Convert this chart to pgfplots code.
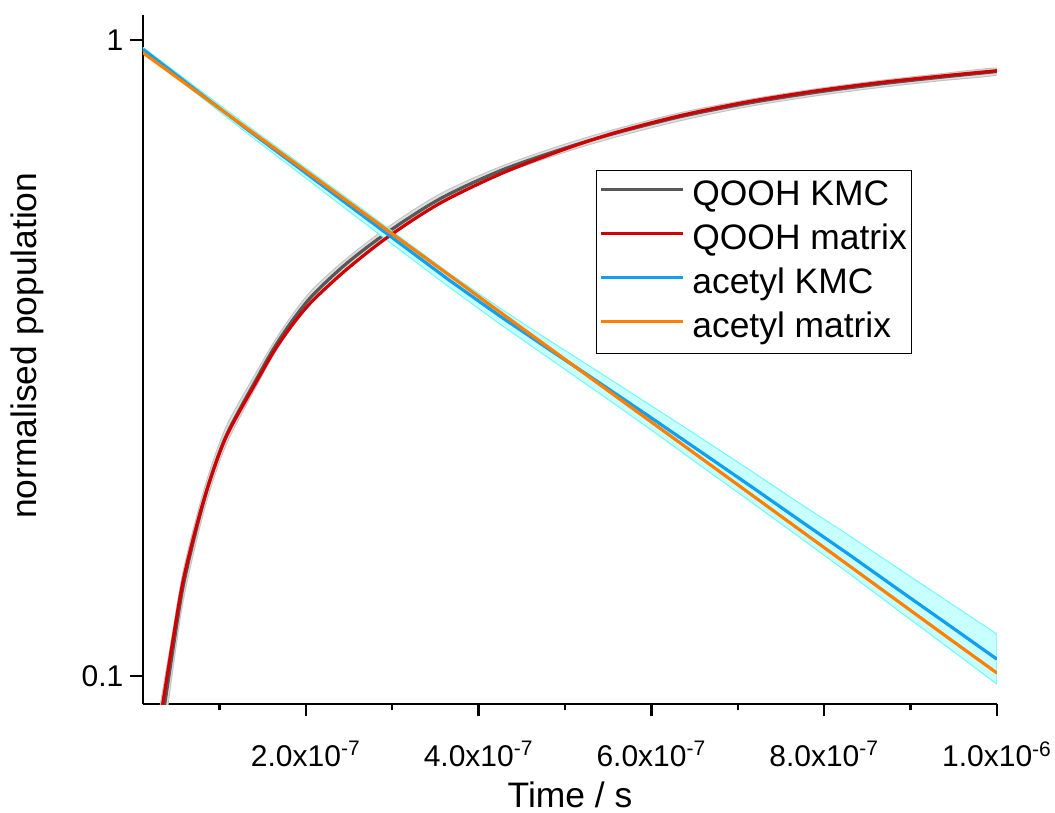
\documentclass[border=0pt]{standalone}
\usepackage{fontspec}
\setmainfont{Liberation Sans}
\usepackage{pgfplots}
\pgfplotsset{compat=1.18}
\definecolor{qgray}{RGB}{88,88,88}
\definecolor{qred}{RGB}{208,0,0}
\definecolor{ablue}{RGB}{17,160,240}
\definecolor{aorange}{RGB}{255,128,0}
\definecolor{cfill}{RGB}{200,255,255}
\definecolor{cedge}{RGB}{110,250,250}
\definecolor{gfill}{RGB}{222,222,222}
\definecolor{gedge}{RGB}{196,196,196}
\begin{document}
\begin{tikzpicture}
\path[use as bounding box] (-71.5pt,-54.5pt) rectangle (456pt,352pt);
\begin{axis}[
  at={(0pt,0pt)}, anchor=south west,
  scale only axis, width=427pt, height=344.5pt,
  ymode=log,
  xmin=1.15e-8, xmax=1e-6, ymin=0.0903, ymax=1.095,
  axis x line*=bottom, axis y line*=left,
  axis line style={line width=1.2pt, -},
  tick align=outside,
  major tick length=6.25pt, minor tick length=3.25pt,
  tick style={line width=1.2pt, black},
  xtick={2e-7,4e-7,6e-7,8e-7,1e-6},
  minor xtick={1e-7,3e-7,5e-7,7e-7,9e-7},
  xticklabels={2.0x10\textsuperscript{-7},4.0x10\textsuperscript{-7},6.0x10\textsuperscript{-7},8.0x10\textsuperscript{-7},1.0x10\textsuperscript{-6}},
  scaled x ticks=false,
  ytick={0.1,1}, yticklabels={0.1,1},
  yminorticks=false,
  ticklabel style={font=\fontsize{15}{17}\selectfont},
  xticklabel style={yshift=-9pt},
  xlabel={Time / s},
  ylabel={normalised population},
  label style={font=\fontsize{17.7}{21}\selectfont},
  xlabel style={at={(axis description cs:0.5,-0.132)}, anchor=center},
  ylabel style={at={(axis description cs:-0.1358,0.52)}, anchor=center},
  legend style={at={(0.530,0.775)}, anchor=north west, draw=black, line width=0.6pt,
    font=\fontsize{17.7}{21}\selectfont, inner xsep=1.5pt, inner ysep=3.4pt,
    nodes={inner sep=1pt, text height=13pt, text depth=3.7pt}, row sep=3.3pt, column sep=3pt},
  legend cell align=left,
  legend image code/.code={\draw[#1, line width=1.6pt] (0pt,0.35em) -- (41pt,0.35em);},
]
% --- QOOH KMC band (upper edge forward, lower edge backward)
\addplot[fill=gfill, draw=gedge, line width=0.5pt, smooth, forget plot] coordinates {
(2.8e-8,0.0842) (3.43e-8,0.0949) (4.47e-8,0.1148) (5.75e-8,0.1450) (7.36e-8,0.1783) (8.9e-8,0.2105) (1.09e-7,0.2486) (1.445e-7,0.3033) (1.642e-7,0.3369) (1.853e-7,0.3714) (2.081e-7,0.4059) (2.47e-7,0.4532) (2.948e-7,0.5078) (3.549e-7,0.5726) (4.243e-7,0.6315) (4.936e-7,0.6815) (5.549e-7,0.7220) (6.324e-7,0.7681) (7.098e-7,0.8052) (7.884e-7,0.8374) (8.636e-7,0.8636) (9.33e-7,0.8847) (1e-6,0.9037)
(1e-6,0.8810) (9.33e-7,0.8625) (8.636e-7,0.8419) (7.884e-7,0.8163) (7.098e-7,0.7850) (6.324e-7,0.7461) (5.549e-7,0.7014) (4.936e-7,0.6620) (4.243e-7,0.6134) (3.549e-7,0.5522) (2.948e-7,0.4897) (2.47e-7,0.4371) (2.081e-7,0.3886) (1.853e-7,0.3556) (1.642e-7,0.3225) (1.445e-7,0.2883) (1.09e-7,0.2329) (8.9e-8,0.1958) (7.36e-8,0.1634) (5.75e-8,0.1300) (4.47e-8,0.0993) (3.43e-8,0.0775) (2.8e-8,0.0668)} -- cycle;
\addplot[qgray, line width=1.6pt, smooth, forget plot] coordinates {
(2.8e-8,0.0750) (3.43e-8,0.0858) (4.47e-8,0.1068) (5.75e-8,0.1373) (7.36e-8,0.1707) (8.9e-8,0.2030) (1.09e-7,0.2406) (1.445e-7,0.2957) (1.642e-7,0.3296) (1.853e-7,0.3634) (2.081e-7,0.3972) (2.47e-7,0.4451) (2.948e-7,0.4987) (3.549e-7,0.5623) (4.243e-7,0.6224) (4.936e-7,0.6717) (5.549e-7,0.7116) (6.324e-7,0.7570) (7.098e-7,0.7950) (7.884e-7,0.8268) (8.636e-7,0.8527) (9.33e-7,0.8735) (1e-6,0.8923)};
% --- acetyl KMC band
\addplot[fill=cfill, draw=cedge, line width=0.5pt, forget plot] coordinates {
(1.15e-8,0.9739) (7.746e-8,0.8339) (1.353e-7,0.7287) (1.931e-7,0.6392) (2.509e-7,0.5603) (3.087e-7,0.4904) (3.665e-7,0.4293) (4.243e-7,0.3791) (4.821e-7,0.3367) (5.399e-7,0.3001) (5.977e-7,0.2671) (6.555e-7,0.2376) (7.133e-7,0.2110) (7.711e-7,0.1870) (8.289e-7,0.1662) (8.867e-7,0.1472) (9.445e-7,0.1305) (1e-6,0.1163)
(1e-6,0.0970) (9.445e-7,0.1105) (8.867e-7,0.1264) (8.289e-7,0.1448) (7.711e-7,0.1653) (7.133e-7,0.1886) (6.555e-7,0.2147) (5.977e-7,0.2448) (5.399e-7,0.2781) (4.821e-7,0.3154) (4.243e-7,0.3578) (3.665e-7,0.4081) (3.087e-7,0.4678) (2.509e-7,0.5365) (1.931e-7,0.6164) (1.353e-7,0.7079) (7.746e-8,0.8160) (1.15e-8,0.9599)} -- cycle;
% --- lines with legend entries
\addlegendimage{qgray, line width=1.6pt}
\addlegendentry{QOOH KMC}
\addplot[qred, line width=1.6pt, smooth] coordinates {
(2.8e-8,0.0800) (3.43e-8,0.0903) (4.47e-8,0.1107) (5.75e-8,0.1401) (7.36e-8,0.1724) (8.9e-8,0.2030) (1.09e-7,0.2396) (1.445e-7,0.2928) (1.642e-7,0.3257) (1.853e-7,0.3580) (2.081e-7,0.3894) (2.47e-7,0.4355) (2.948e-7,0.4899) (3.549e-7,0.5534) (4.243e-7,0.615) (4.936e-7,0.669) (5.549e-7,0.713) (6.324e-7,0.760) (7.098e-7,0.799) (7.884e-7,0.831) (8.636e-7,0.857) (9.33e-7,0.877) (1e-6,0.895)};
\addlegendentry{QOOH matrix}
\addplot[ablue, line width=1.6pt] coordinates {
(1.15e-8,0.9669) (7.746e-8,0.8249) (1.353e-7,0.7182) (1.931e-7,0.6277) (2.509e-7,0.5483) (3.087e-7,0.4790) (3.665e-7,0.4186) (4.243e-7,0.3683) (4.821e-7,0.3259) (5.399e-7,0.2889) (5.977e-7,0.2557) (6.555e-7,0.2259) (7.133e-7,0.1995) (7.711e-7,0.1758) (8.289e-7,0.1551) (8.867e-7,0.1364) (9.445e-7,0.1201) (1e-6,0.1062)};
\addlegendentry{acetyl KMC}
\addplot[aorange, line width=1.6pt] coordinates {
(1.15e-8,0.9550) (7.746e-8,0.8220) (1.353e-7,0.7208) (1.931e-7,0.6324) (2.509e-7,0.5543) (3.087e-7,0.4860) (3.665e-7,0.4263) (4.243e-7,0.3737) (4.821e-7,0.3277) (5.399e-7,0.2873) (5.977e-7,0.2520) (6.555e-7,0.2210) (7.133e-7,0.1938) (7.711e-7,0.1699) (8.289e-7,0.1490) (8.867e-7,0.1306) (9.445e-7,0.1145) (1e-6,0.1010)};
\addlegendentry{acetyl matrix}
\end{axis}
\end{tikzpicture}
\end{document}
